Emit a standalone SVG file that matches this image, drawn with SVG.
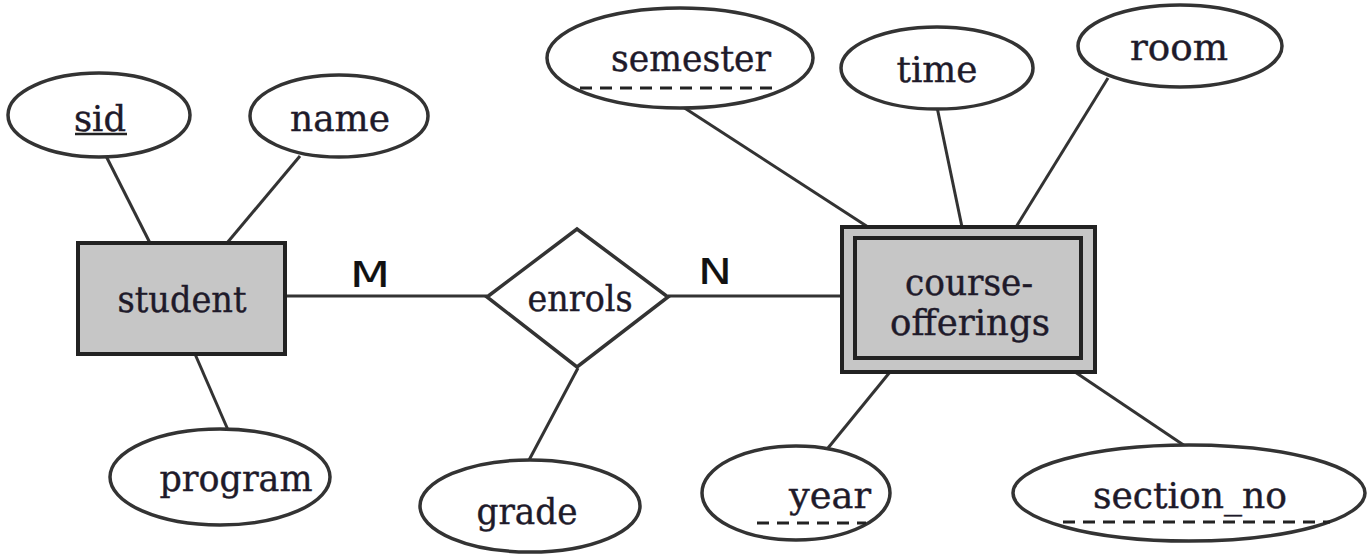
<svg xmlns="http://www.w3.org/2000/svg" width="1368" height="559" viewBox="0 0 1368 559">
<style>
.ln{stroke:#333;stroke-width:3;fill:none}
.attr{fill:#fff;stroke:#333;stroke-width:3.5}
.ent{fill:#c6c6c6;stroke:#222;stroke-width:4}
.t{font-family:"DejaVu Serif","Liberation Serif",serif;font-size:35px;fill:#1e1a2a;stroke:#1e1a2a;stroke-width:0.4;text-anchor:middle}
.c{font-family:"DejaVu Sans","Liberation Sans",Arial,sans-serif;font-size:36px;fill:#111;stroke:#111;stroke-width:0.2;text-anchor:middle}
.dash{stroke:#222;stroke-width:3;stroke-dasharray:12,8}
</style>
<rect width="1368" height="559" fill="#fff"/>
<g id="connectors">
<line class="ln" x1="106" y1="156" x2="150" y2="243"/>
<line class="ln" x1="300" y1="156" x2="227" y2="243"/>
<line class="ln" x1="195" y1="354" x2="228" y2="430"/>
<line class="ln" x1="285" y1="296" x2="487" y2="296"/>
<line class="ln" x1="668" y1="296" x2="842" y2="296"/>
<line class="ln" x1="578" y1="368" x2="528" y2="462"/>
<line class="ln" x1="683" y1="107" x2="868" y2="227"/>
<line class="ln" x1="937" y1="107" x2="962" y2="227"/>
<line class="ln" x1="1108" y1="78" x2="1016" y2="227"/>
<line class="ln" x1="890" y1="372" x2="828" y2="448"/>
<line class="ln" x1="1075" y1="372" x2="1185" y2="446"/>
<text class="c" x="370" y="287" textLength="40" lengthAdjust="spacingAndGlyphs">M</text>
<text class="c" x="715" y="284" textLength="34" lengthAdjust="spacingAndGlyphs">N</text>
</g>
<g id="sid">
<ellipse class="attr" cx="99" cy="115" rx="91" ry="42"/>
<text class="t" x="100" y="131" textLength="52" lengthAdjust="spacingAndGlyphs">sid</text>
<line x1="75" y1="134" x2="127" y2="134" stroke="#222" stroke-width="2.5"/>
</g>
<g id="name">
<ellipse class="attr" cx="339" cy="116" rx="89" ry="41"/>
<text class="t" x="340" y="131" textLength="100" lengthAdjust="spacingAndGlyphs">name</text>
</g>
<g id="student">
<rect class="ent" x="78" y="243" width="207" height="111"/>
<text class="t" x="182" y="312" textLength="129" lengthAdjust="spacingAndGlyphs">student</text>
</g>
<g id="program">
<ellipse class="attr" cx="220" cy="477" rx="110" ry="48"/>
<text class="t" x="236" y="491" textLength="153" lengthAdjust="spacingAndGlyphs">program</text>
</g>
<g id="enrols">
<polygon class="attr" points="487,297 577,229 668,297 577,367" stroke-width="3"/>
<text class="t" x="580" y="311" textLength="105" lengthAdjust="spacingAndGlyphs">enrols</text>
</g>
<g id="grade">
<ellipse class="attr" cx="530" cy="506" rx="110" ry="46"/>
<text class="t" x="527" y="524" textLength="101" lengthAdjust="spacingAndGlyphs">grade</text>
</g>
<g id="semester">
<ellipse class="attr" cx="680" cy="58" rx="133" ry="50"/>
<text class="t" x="691" y="71" textLength="160" lengthAdjust="spacingAndGlyphs">semester</text>
<line class="dash" x1="580" y1="88" x2="778" y2="88"/>
</g>
<g id="time">
<ellipse class="attr" cx="937" cy="68" rx="96" ry="41"/>
<text class="t" x="937" y="82" textLength="81" lengthAdjust="spacingAndGlyphs">time</text>
</g>
<g id="room">
<ellipse class="attr" cx="1180" cy="46" rx="102" ry="41"/>
<text class="t" x="1179" y="60" textLength="98" lengthAdjust="spacingAndGlyphs">room</text>
</g>
<g id="course-offerings">
<rect class="ent" x="842" y="227" width="253" height="145"/>
<rect x="855" y="238" width="226" height="120" fill="#c6c6c6" stroke="#222" stroke-width="4"/>
<text class="t" x="969" y="295" textLength="128" lengthAdjust="spacingAndGlyphs">course-</text>
<text class="t" x="970" y="335" textLength="160" lengthAdjust="spacingAndGlyphs">offerings</text>
</g>
<g id="year">
<ellipse class="attr" cx="796" cy="493" rx="94" ry="47"/>
<text class="t" x="830" y="508" textLength="82" lengthAdjust="spacingAndGlyphs">year</text>
<line class="dash" x1="757" y1="523" x2="866" y2="523"/>
</g>
<g id="section_no">
<ellipse class="attr" cx="1189" cy="493" rx="176" ry="48"/>
<text class="t" x="1190" y="508" textLength="194" lengthAdjust="spacingAndGlyphs">section_no</text>
<line class="dash" x1="1063" y1="522" x2="1330" y2="522"/>
</g>
</svg>
